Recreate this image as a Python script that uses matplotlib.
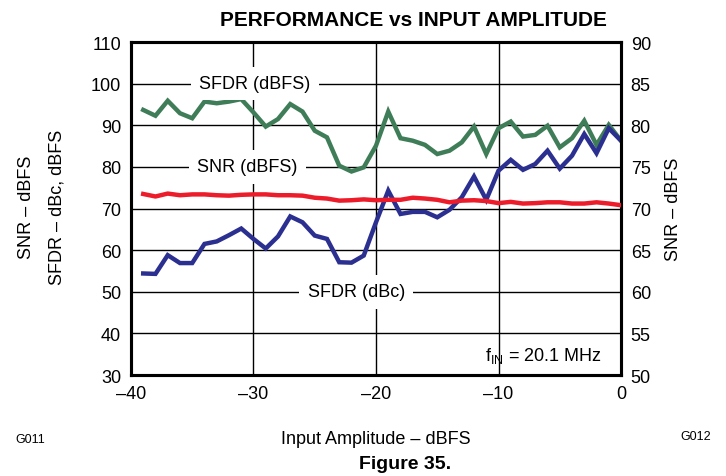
import numpy as np
import matplotlib
matplotlib.use('Agg')
import matplotlib.pyplot as plt

plt.rcParams['font.family'] = ['Liberation Sans', 'DejaVu Sans']
plt.rcParams['mathtext.default'] = 'regular'

# input amplitude, dBFS
amplitude = list(range(-39, 1))

# SFDR referred to full scale (left axis)
sfdr_dbfs = [93.7, 92.3, 95.9, 92.9, 91.7, 95.7, 95.3, 95.7, 96.3, 93.1,
             89.7, 91.5, 95.1, 93.3, 88.7, 87.1, 80.3, 78.9, 79.9, 85.1,
             93.3, 86.9, 86.3, 85.3, 83.1, 83.9, 85.9, 89.7, 83.1, 89.3,
             90.9, 87.3, 87.7, 89.9, 84.7, 86.9, 91.1, 85.3, 90.1, 86.3]

# SFDR referred to carrier (left axis)
sfdr_dbc = [54.4, 54.3, 58.8, 56.9, 56.9, 61.5, 62.1, 63.6, 65.2, 62.7,
            60.4, 63.3, 68.1, 66.7, 63.5, 62.7, 57.1, 57.0, 58.7, 66.7,
            74.3, 68.7, 69.2, 69.2, 67.9, 69.7, 72.7, 77.7, 72.1, 79.1,
            81.7, 79.3, 80.7, 83.9, 79.6, 82.7, 87.9, 83.3, 89.3, 86.3]

# SNR (right axis)
snr_dbfs = [71.75, 71.45, 71.8, 71.6, 71.7, 71.7, 71.6, 71.55, 71.65, 71.7,
            71.7, 71.6, 71.6, 71.55, 71.3, 71.2, 70.95, 71.0, 71.1, 71.0,
            71.05, 71.05, 71.3, 71.2, 71.05, 70.75, 70.95, 71.0, 70.9, 70.65,
            70.8, 70.6, 70.65, 70.75, 70.75, 70.6, 70.6, 70.75, 70.6, 70.4]

green = '#3f7d58'
blue = '#2b2f90'
red = '#ec1c2a'

fig = plt.figure(figsize=(7.26, 4.77), dpi=100)
ax = fig.add_axes([0.1804, 0.2117, 0.675, 0.698])
ax2 = ax.twinx()

ax.plot(amplitude, sfdr_dbfs, color=green, lw=3.2, solid_joinstyle='miter', zorder=3)
ax.plot(amplitude, sfdr_dbc, color=blue, lw=3.2, solid_joinstyle='miter', zorder=3)
ax2.plot(amplitude, snr_dbfs, color=red, lw=3.2, zorder=3)

ax.set_xlim(-40, 0)
ax.set_ylim(30, 110)
ax2.set_ylim(50, 90)
ax.set_xticks(np.arange(-40, 1, 10))
ax.set_yticks(np.arange(30, 111, 10))
ax2.set_yticks(np.arange(50, 91, 5))
ax.grid(True, color='black', lw=1)

for a in (ax, ax2):
    a.tick_params(length=0, labelsize=13, pad=7)
    for s in a.spines.values():
        s.set_linewidth(2.2)

ax.set_xticklabels(['\u201340', '\u201330', '\u201320', '\u201310', '0'])

box = dict(facecolor='white', edgecolor='none', pad=6)
ax.text(-29.9, 100, 'SFDR (dBFS)', ha='center', va='center', fontsize=13, bbox=box, zorder=4)
ax.text(-30.5, 80, 'SNR (dBFS)', ha='center', va='center', fontsize=13, bbox=box, zorder=4)
ax.text(-21.6, 50, 'SFDR (dBc)', ha='center', va='center', fontsize=13, bbox=box, zorder=4)
ax.text(-1.55, 34.8, 'f$_{IN}$ = 20.1 MHz', ha='right', va='center', fontsize=13, zorder=4)

ax.set_xlabel('Input Amplitude \u2013 dBFS', fontsize=13, labelpad=20)
ax2.set_ylabel('SNR \u2013 dBFS', fontsize=13, labelpad=10)
fig.text(0.037, 0.565, 'SNR \u2013 dBFS', rotation=90, ha='center', va='center', fontsize=13)
fig.text(0.078, 0.565, 'SFDR \u2013 dBc, dBFS', rotation=90, ha='center', va='center', fontsize=13)

fig.text(0.569, 0.956, 'PERFORMANCE vs INPUT AMPLITUDE', ha='center', va='center',
         fontsize=15, fontweight='bold')
fig.text(0.494, 0.026, 'Figure 35.', ha='left', va='center', fontsize=14, fontweight='bold')
fig.text(0.042, 0.078, 'G011', ha='center', va='center', fontsize=9)
fig.text(0.958, 0.083, 'G012', ha='center', va='center', fontsize=9)

fig.savefig('out.png', dpi=100)
